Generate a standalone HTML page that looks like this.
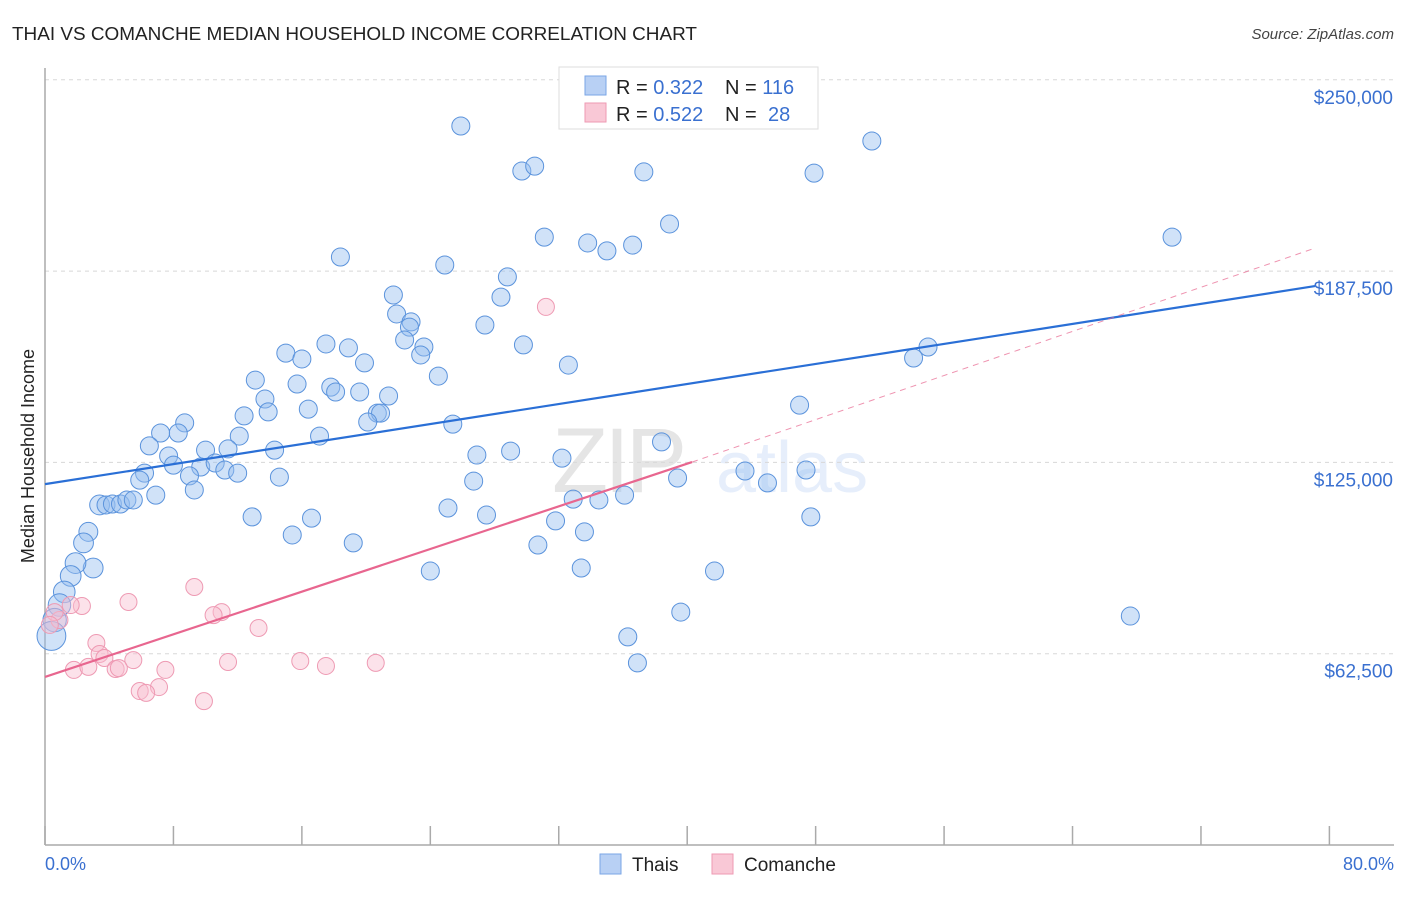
<!DOCTYPE html>
<html><head><meta charset="utf-8"><style>
body{margin:0;background:#fff;font-family:"Liberation Sans",sans-serif;}
svg text{font-family:"Liberation Sans",sans-serif;}
</style></head><body>
<svg id="chart" width="1406" height="892" viewBox="0 0 1406 892" xmlns="http://www.w3.org/2000/svg">
<text x="12" y="40" font-size="18" fill="#222" textLength="685" lengthAdjust="spacingAndGlyphs">THAI VS COMANCHE MEDIAN HOUSEHOLD INCOME CORRELATION CHART</text>
<text x="1394" y="39" font-size="15" fill="#444" text-anchor="end" font-style="italic">Source: ZipAtlas.com</text>
<g opacity="0.12">
<text x="552" y="492" font-size="92" font-family="Liberation Serif,serif" fill="#333" letter-spacing="-4">ZIP</text>
<text x="716" y="492" font-size="72" fill="#3a7be0">atlas</text>
</g>
<g id="grid"></g>
<g id="axes"></g>
<g id="marks"></g>
<g id="lines"></g>
<text transform="translate(34,456) rotate(-90)" font-size="18" fill="#222" text-anchor="middle">Median Household Income</text>
<text x="45" y="870" font-size="18" fill="#3a70d0">0.0%</text>
<text x="1394" y="870" font-size="18" fill="#3a70d0" text-anchor="end">80.0%</text>
<g>
<rect x="559" y="67" width="259" height="62" fill="#fff" stroke="#ddd"/>
<rect x="585" y="76" width="21" height="19" fill="#b8d0f4" stroke="#7aa6e6"/>
<rect x="585" y="103" width="21" height="19" fill="#f9c8d6" stroke="#ee9ab3"/>
<text x="616" y="94" font-size="20" fill="#222">R = <tspan fill="#3a70d0">0.322</tspan><tspan x="725">N = </tspan><tspan fill="#3a70d0">116</tspan></text>
<text x="616" y="121" font-size="20" fill="#222">R = <tspan fill="#3a70d0">0.522</tspan><tspan x="725">N = </tspan><tspan fill="#3a70d0" x="768">28</tspan></text>
</g>
<g>
<rect x="600" y="854" width="21" height="20" fill="#b8d0f4" stroke="#7aa6e6"/>
<text x="632" y="871" font-size="19" fill="#222">Thais</text>
<rect x="712" y="854" width="21" height="20" fill="#f9c8d6" stroke="#ee9ab3"/>
<text x="744" y="871" font-size="19" fill="#222">Comanche</text>
</g>
</svg>
<script>
const yTicks=[62500,125000,187500,250000];
const yTickLabels=["$62,500","$125,000","$187,500","$250,000"];
const xTicks=[0,8,16,24,32,40,48,56,64,72,80];
const thaiX=[25.9,51.5,29.7,30.5,37.3,47.9,38.9,31.1,33.8,35.0,36.6,70.2,18.4,24.9,28.8,28.4,21.7,21.9,22.8,22.7,27.4,22.4,23.6,23.4,17.5,18.9,29.8,15.0,16.0,19.9,32.6,24.5,13.1,15.7,17.8,18.1,19.6,21.4,54.1,55.0,13.7,13.9,16.4,12.4,20.7,20.9,20.1,25.4,47.0,8.7,8.3,7.2,6.5,12.1,17.1,10.0,11.4,14.3,7.7,38.4,26.9,29.0,32.2,8.0,9.7,10.6,11.2,12.0,6.2,9.0,5.9,14.6,26.7,39.4,43.6,47.4,45.0,9.3,6.9,3.4,3.8,4.2,4.7,5.1,5.5,32.9,34.5,36.1,27.5,25.1,12.9,16.6,31.8,47.7,15.4,33.6,2.7,2.4,19.2,30.7,24.0,33.4,41.7,3.0,1.9,1.6,1.2,0.9,0.6,0.4,39.6,67.6,36.3,36.9];
const thaiY=[234.9,230.0,220.2,221.8,219.9,219.5,202.9,198.6,196.7,194.1,196.0,198.6,192.1,189.5,185.6,179.0,179.7,173.5,170.9,169.2,169.9,165.0,162.7,160.1,163.7,162.4,163.4,160.7,158.8,157.5,156.8,153.2,151.9,150.6,149.6,148.0,148.0,146.7,159.1,162.7,145.7,141.5,142.4,140.2,141.1,141.1,138.2,137.5,143.7,137.9,134.6,134.6,130.4,133.6,133.6,129.0,129.4,129.0,127.1,131.7,127.4,128.7,126.4,124.1,123.5,124.8,122.5,121.5,121.5,120.6,119.2,120.2,118.9,119.9,122.2,122.5,118.3,116.0,114.3,111.1,111.1,111.4,111.4,112.7,112.7,113.0,112.7,114.3,107.8,110.1,107.2,106.8,105.9,107.2,101.3,102.3,102.3,98.7,98.7,98.0,89.5,90.5,89.5,90.5,92.1,87.9,82.7,78.4,73.5,68.3,76.1,74.8,68.0,59.5];
const thaiWeight=[1,1,1,1,1,1,1,1,1,1,1,1,1,1,1,1,1,1,1,1,1,1,1,1,1,1,1,1,1,1,1,1,1,1,1,1,1,1,1,1,1,1,1,1,1,1,1,1,1,1,1,1,1,1,1,1,1,1,1,1,1,1,1,1,1,1,1,1,1,1,1,1,1,1,1,1,1,1,1,1.1,1,1,1,1,1,1,1,1,1,1,1,1,1,1,1,1,1.05,1.1,1,1,1,1,1,1.1,1.15,1.15,1.2,1.25,1.3,1.6,1,1,1,1];
const comX=[31.2,9.3,5.2,2.3,1.6,11.0,10.5,13.3,3.2,3.4,3.7,5.5,7.5,4.4,4.6,11.4,15.9,17.5,20.6,1.8,2.7,7.1,5.9,6.3,9.9,0.9,0.6,0.3];
const comY=[175.8,84.3,79.4,78.1,78.4,76.1,75.1,70.9,66.0,62.4,61.1,60.4,57.2,57.5,57.8,59.8,60.1,58.5,59.5,57.2,58.2,51.6,50.3,49.7,47.0,73.5,76.1,71.9];
const thaiTrend=[117.9,182.6];
const comTrend=[54.9,125.1,195.0];
const trendX=[0,79.1,40.3];

const NS="http://www.w3.org/2000/svg";
const X=p=>45+p*1284.4/80;
const Y=v=>845-v*191.3/62500;
const Yk=k=>Y(k*1000);
function mk(tag,attrs,parent){const e=document.createElementNS(NS,tag);for(const k in attrs)e.setAttribute(k,attrs[k]);parent.appendChild(e);return e;}
const grid=document.getElementById('grid'),axes=document.getElementById('axes'),marks=document.getElementById('marks'),lines=document.getElementById('lines');
yTicks.forEach((t,i)=>{
  const l=mk('line',{x1:45,x2:1394,y1:Y(t),y2:Y(t),stroke:'#d8d8d8','stroke-dasharray':'4 4'},grid);
  
  
  const tx=mk('text',{x:1393,y:Y(t)+24,'font-size':19,fill:'#3a70d0','text-anchor':'end'},axes);
  tx.textContent=yTickLabels[i];
  
  
});
const ax=mk('line',{x1:45,x2:1394,y1:845,y2:845,stroke:'#aaa','stroke-width':1.5},axes);


const ay=mk('line',{x1:45,x2:45,y1:68,y2:845,stroke:'#aaa','stroke-width':1.5},axes);


xTicks.forEach(t=>{const l=mk('line',{x1:X(t),x2:X(t),y1:826,y2:845,stroke:'#aaa','stroke-width':1.5},axes);
  
  });
thaiX.forEach((p,i)=>{const c=mk('circle',{cx:X(p),cy:Yk(thaiY[i]),r:9*(thaiWeight[i]||1),fill:'rgba(150,190,240,0.45)',stroke:'#5b93dc','stroke-width':1},marks);
  
  });
comX.forEach((p,i)=>{const c=mk('circle',{cx:X(p),cy:Yk(comY[i]),r:8.5,fill:'rgba(248,190,208,0.45)',stroke:'#ee9ab3','stroke-width':1},marks);
  
  });
const tl=mk('line',{x1:X(trendX[0]),y1:Yk(thaiTrend[0]),x2:X(trendX[1]),y2:Yk(thaiTrend[1]),stroke:'#2a6fd6','stroke-width':2.2},lines);


const cl=mk('line',{x1:X(trendX[0]),y1:Yk(comTrend[0]),x2:X(trendX[2]),y2:Yk(comTrend[1]),stroke:'#e8668f','stroke-width':2.2},lines);


const cd=mk('line',{x1:X(trendX[2]),y1:Yk(comTrend[1]),x2:X(trendX[1]),y2:Yk(comTrend[2]),stroke:'#e8668f','stroke-width':1,'stroke-dasharray':'6 5',opacity:0.7},lines);


</script>
</body></html>
